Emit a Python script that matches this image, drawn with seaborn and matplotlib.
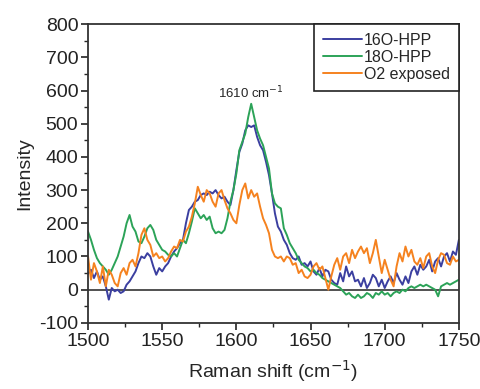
import numpy as np
import pandas as pd
import matplotlib.pyplot as plt
import seaborn as sns
from matplotlib.ticker import MultipleLocator

sns.set_style("ticks")
plt.rcParams["font.family"] = ["Liberation Sans", "DejaVu Sans"]
plt.rcParams["axes.unicode_minus"] = False

# Raman shift axis, one reading every 2 cm-1
shift = np.arange(1500, 1751, 2)

hpp16 = [
    48, 60, 35, 55, 30, 40, 10, -30, 5, -5,
    0, -10, -5, 15, 25, 40, 55, 80, 100, 95,
    110, 100, 70, 45, 65, 55, 70, 80, 100, 115,
    125, 140, 150, 200, 240, 250, 265, 270, 285, 290,
    285, 295, 290, 300, 285, 275, 280, 265, 255, 300,
    360, 415, 440, 480, 495, 490, 495, 460, 435, 420,
    385, 345, 290, 230, 190, 175, 150, 135, 110, 95,
    90, 100, 75, 80, 70, 85, 55, 45, 65, 40,
    60, 55, 30, 20, 15, 50, 25, 70, 40, 55,
    25, 30, 10, 35, 5, 20, 45, 35, 10, 30,
    5, 25, 40, 20, 50, 30, 15, 40, 20, 55,
    70, 45, 75, 60, 70, 90, 55, 85, 95, 70,
    100, 110, 85, 115, 105, 150,
]

hpp18 = [
    175, 150, 120, 95, 80, 70, 60, 45, 60, 80,
    100, 130, 160, 200, 225, 190, 175, 145, 140, 160,
    185, 195, 180, 150, 135, 120, 115, 105, 100, 110,
    100, 125, 150, 140, 170, 205, 245, 230, 215, 225,
    210, 220, 185, 170, 175, 170, 180, 215, 265, 300,
    350, 420, 445, 470, 520, 560, 520, 480, 455, 435,
    400, 365, 290, 260, 250, 245, 185, 165, 140, 125,
    110, 90, 80, 70, 65, 55, 60, 50, 45, 35,
    30, 25, 20, 15, 10, 5, -5, -15, -10, -20,
    -25, -15, -25, -20, -10, -15, -25, -10, -15, -5,
    -15, -10, -20, -10, -5, -10, 0, -5, 5, 10,
    5, 10, 15, 10, 15, 10, 5, 0, -20, 10,
    15, 20, 15, 20, 25, 30,
]

o2_exposed = [
    100, 30, 80, 55, 20, 70, 10, 60, 45, 20,
    10, 50, 65, 45, 80, 90, 70, 110, 165, 185,
    150, 135, 100, 110, 95, 100, 85, 95, 115, 130,
    125, 150, 145, 175, 190, 220, 260, 310, 285, 265,
    300, 290, 265, 250, 290, 300, 270, 245, 230, 210,
    200, 255, 300, 320, 275, 300, 280, 290, 250, 215,
    195, 170, 120, 100, 95, 100, 85, 100, 95, 75,
    80, 50, 60, 40, 35, 45, 70, 80, 60, 70,
    35, 0, 40, 75, 95, 60, 100, 110, 80, 120,
    95, 115, 130, 110, 125, 80, 110, 150, 100, 50,
    90, 60, 30, 10, 70, 110, 85, 130, 100, 120,
    85, 75, 95, 65, 100, 110, 70, 50, 90, 110,
    105, 80, 75, 100, 85, 90,
]

labels = ["16O-HPP", "18O-HPP", "O2 exposed"]
colors = ["#3b3fa0", "#2ca358", "#f5821f"]

df = pd.concat([
    pd.DataFrame({"shift": shift, "intensity": vals, "sample": name})
    for name, vals in zip(labels, [hpp16, hpp18, o2_exposed])
])

fig = plt.figure(figsize=(4.81, 3.89), dpi=100)
ax = fig.add_axes([0.183, 0.170, 0.771, 0.768])

sns.lineplot(data=df, x="shift", y="intensity", hue="sample", hue_order=labels,
             palette=colors, estimator=None, lw=1.4, ax=ax)
ax.axhline(0, color="#333333", lw=1.2, zorder=0)

ax.set_xlim(1500, 1750)
ax.set_ylim(-100, 800)
ax.xaxis.set_major_locator(MultipleLocator(50))
ax.xaxis.set_minor_locator(MultipleLocator(25))
ax.yaxis.set_major_locator(MultipleLocator(100))
ax.yaxis.set_minor_locator(MultipleLocator(50))
ax.tick_params(which="major", length=5, width=1.2, labelsize=14, colors="#222222", pad=2)
ax.tick_params(which="minor", length=3, width=1.0)
for sp in ax.spines.values():
    sp.set_visible(True)
    sp.set_linewidth(1.3)
    sp.set_color("#333333")

ax.set_xlabel("Raman shift (cm$^{-1}$)", fontsize=14, labelpad=6)
ax.set_ylabel("Intensity", fontsize=14, labelpad=4)

ax.text(1610, 593, "1610 cm$^{-1}$", fontsize=9.5, ha="center", va="center")

leg = ax.legend(loc="upper right", fontsize=11.5, handlelength=2.5, handletextpad=0.1,
                labelspacing=0.12, borderaxespad=0, fancybox=False, framealpha=1,
                borderpad=0.55)
leg.set_title(None)
leg.get_frame().set_edgecolor("#222222")
leg.get_frame().set_linewidth(1.2)

plt.savefig("out.png", dpi=100)
